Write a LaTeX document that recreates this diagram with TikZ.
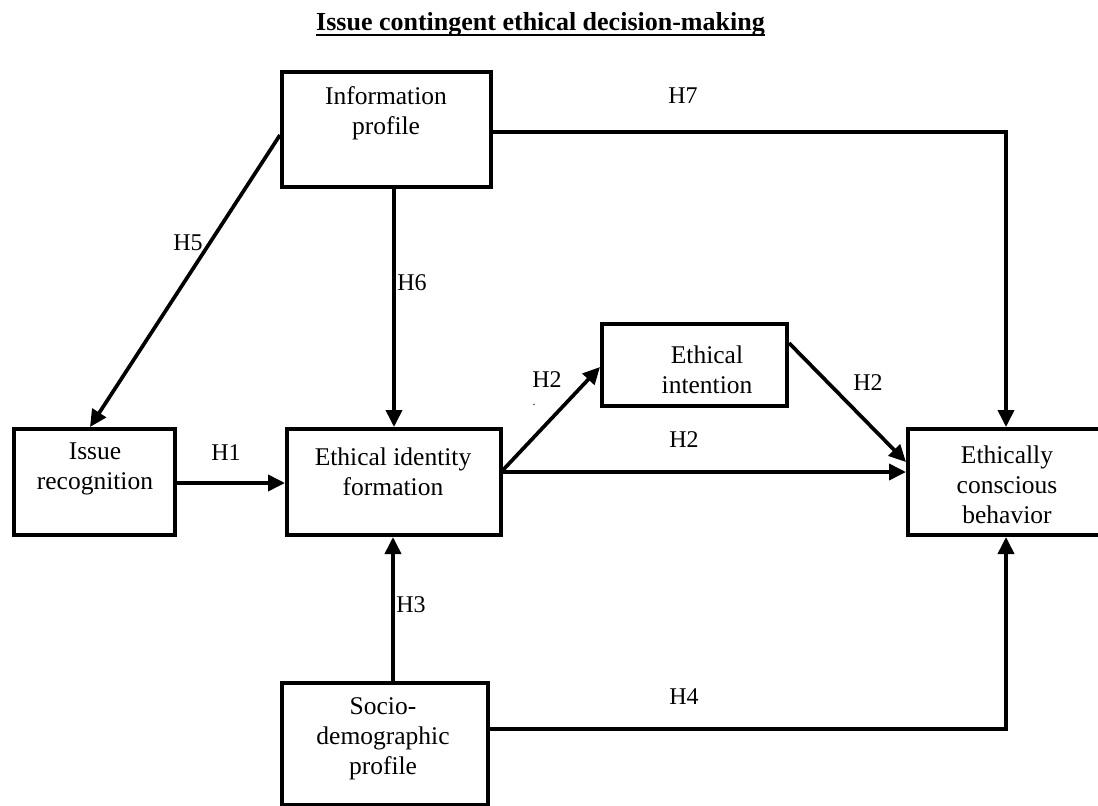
\documentclass[tikz,border=0pt]{standalone}
\usepackage{fontspec}
\setmainfont{Liberation Serif}
\usetikzlibrary{arrows.meta}
\begin{document}
\begin{tikzpicture}[x=1pt,y=-1pt,
  box/.style={draw,line width=4pt,rectangle,inner sep=0pt},
  txt/.style={align=center,inner sep=0pt,font=\fontsize{25.5pt}{30pt}\selectfont},
  lbl/.style={inner sep=0pt,font=\fontsize{24pt}{28pt}\selectfont},
  arr/.style={line width=3.7pt,-{Triangle[length=17pt,width=16pt]}},
  ln/.style={line width=3.7pt}]
\useasboundingbox (0,0) rectangle (1098,806);
% title
\node[inner sep=0pt,anchor=base,font=\fontsize{26pt}{30pt}\selectfont\bfseries] (title) at (540.5,30) {Issue contingent ethical decision-making};
\draw[line width=2pt] ([yshift=-4.5pt]title.base west) -- ([yshift=-4.5pt]title.base east);
% boxes
\node[box,minimum width=209pt,minimum height=115pt] (info) at (386.5,129.5) {};
\node[box,minimum width=161pt,minimum height=106pt] (issue) at (94.5,482) {};
\node[box,minimum width=214pt,minimum height=106pt] (ident) at (394,482) {};
\node[box,minimum width=185pt,minimum height=82pt] (intent) at (694.5,365) {};
\node[box,minimum width=198pt,minimum height=106pt] (behav) at (1007,482) {};
\node[box,minimum width=206pt,minimum height=122pt] (socio) at (385,744) {};
% texts
\node[txt] (infoT) at (386,113) {Information\\profile};
\node[txt] (issueT) at (95,469) {Issue\\recognition};
\node[txt] (identT) at (393,472) {Ethical identity\\formation};
\node[txt] (intentT) at (707,370) {Ethical\\intention};
\node[txt] (behavT) at (1007,485) {Ethically\\conscious\\behavior};
\node[txt] (socioT) at (383,739) {Socio-\\demographic\\profile};
% connectors
\coordinate (c7) at (1006,132);
\coordinate (c4) at (1006,729);
\draw[arr] (info.west |- 0,135) -- (issue.north -| 90,0);
\draw[arr] (info.south -| 394,0) -- (ident.north -| 394,0);
\draw[arr] (issue.east |- 0,483) -- (ident.west |- 0,483);
\draw[arr] (socio.north -| 393,0) -- (ident.south -| 393,0);
\draw[arr] (ident.east |- 0,470) -- (intent.west |- 0,367);
\draw[arr] (ident.east |- 0,472) -- (behav.west |- 0,472);
\draw[arr] (intent.east |- 0,343) -- (behav.west |- 0,462);
\draw[arr] (info.east |- c7) -- (c7) -- (behav.north -| c7);
\draw[arr] (socio.east |- c4) -- (c4) -- (behav.south -| c4);
% labels
\node[lbl] (h7) at (683,96) {H7};
\node[lbl] (h5) at (188,243) {H5};
\node[lbl] (h6) at (412,283) {H6};
\node[lbl] (h2a) at (547,380) {H2};
\node[inner sep=0pt,font=\fontsize{12pt}{14pt}\selectfont] (dot) at (534,405) {.};
\node[lbl] (h2b) at (868,383) {H2};
\node[lbl] (h2c) at (684,440) {H2};
\node[lbl] (h1) at (226,453) {H1};
\node[lbl] (h3) at (411,605) {H3};
\node[lbl] (h4) at (684,697) {H4};
\end{tikzpicture}
\end{document}
